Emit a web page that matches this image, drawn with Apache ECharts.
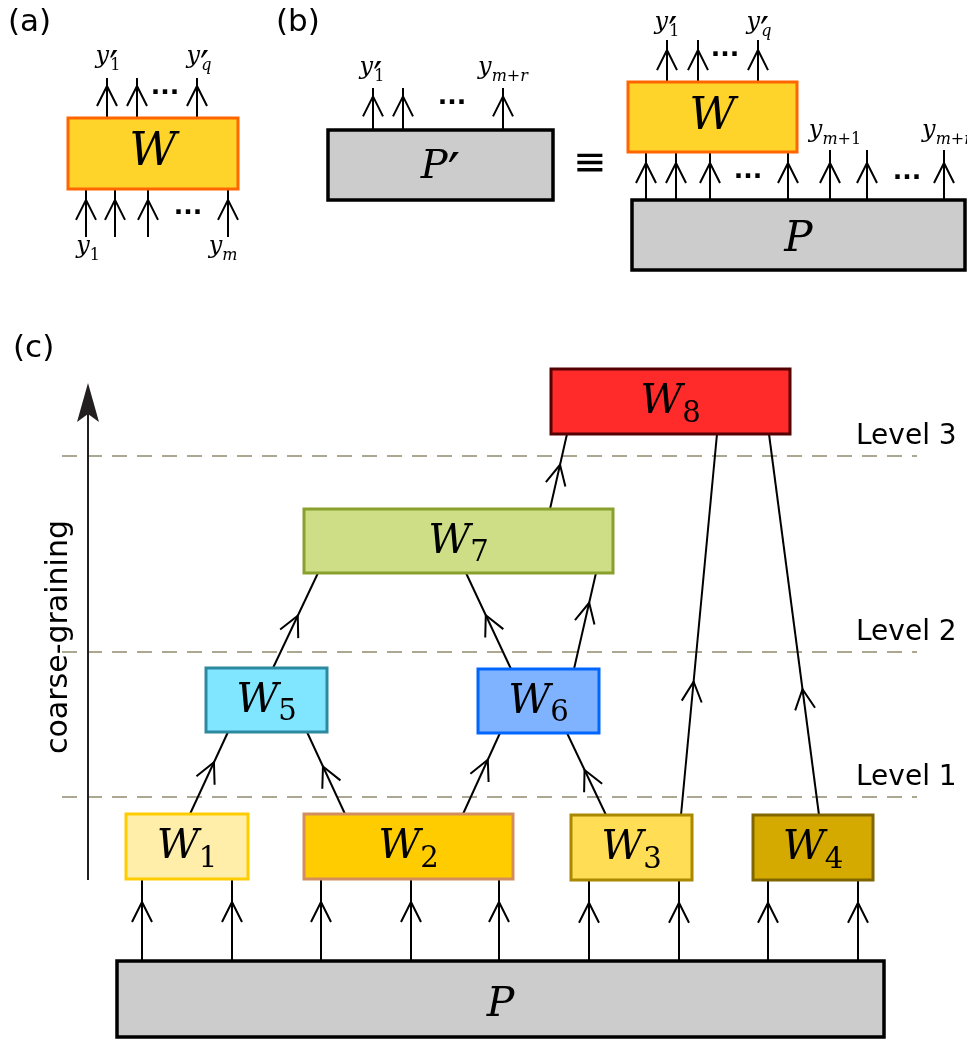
<!DOCTYPE html>
<html><head><meta charset="utf-8">
<script src="https://cdn.jsdelivr.net/npm/echarts@6/dist/echarts.min.js"></script>
<style>html,body{margin:0;padding:0;background:#fff}#c{width:967px;height:1039px}</style>
</head><body><div id="c"></div>
<script>
// ================= DATA (diagram units, y grows downward) =================
// Boxes
const boxIds    = ['a-W','b-P1','b-W','b-P','W8','W7','W5','W6','W1','W2','W3','W4','c-P'];
const boxBase   = ['W','P','W','P','W','W','W','W','W','W','W','W','P'];
const boxPrime  = [0,1,0,0,0,0,0,0,0,0,0,0,0];
const boxSub    = ['','','','','8','7','5','6','1','2','3','4',''];
const boxExtent = [
  [68,118,238,189],[328,130,553,200],[628,82,797,152],[632,200,965,270],
  [551,369,790,434],[304,509,613,573],[206,668,327,732],[478,669,599,733],
  [126,814,248,879],[304,814,513,879],[571,815,692,880],[753,815,873,880],
  [117,961,884,1037]
];
// Arrows: [fromX, fromY, toX, toY, head position along the edge]
const arrows = [
  [107,118,107,78,0.8],[137,118,137,78,0.8],[197,118,197,78,0.8],
  [86,237,86,190,0.79],[115,237,115,190,0.79],[148,237,148,190,0.79],[228,237,228,190,0.79],
  [373,130,373,88,0.8],[403,130,403,88,0.8],[503,130,503,88,0.8],
  [667,82,667,40,0.76],[698,82,698,40,0.76],[758,82,758,40,0.76],
  [646,200,646,152,0.77],[676,200,676,152,0.77],[710,200,710,152,0.77],[788,200,788,152,0.77],
  [830,200,830,150,0.74],[867,200,867,150,0.74],[944,200,944,150,0.74],
  [142,961,142,879,0.72],[232,961,232,879,0.72],[321,961,321,879,0.72],[411,961,411,879,0.72],
  [499,961,499,879,0.72],[589,961,589,880,0.72],[679,961,679,880,0.72],[768,961,768,880,0.72],
  [858,961,858,880,0.72],
  [190,814,228,732,0.63],[345,814,307,732,0.58],[463,814,500,733,0.67],[606,815,567,733,0.55],
  [681,815,717,434,0.35],[819,815,769,434,0.33],
  [273,668,318,573,0.55],[511,669,466,573,0.56],[574,669,596,573,0.69],
  [550,509,567,434,0.59]
];
// Ellipsis marks
const dotsPos = [[165,93],[188,213],[452,103],[725,55],[748,177],[907,178]];
// Variable labels
const varPos   = [[108,57],[199,57],[88,247],[223,247],[372,68],[503,68],[667,23],[759,23],[835,131],[947,131]];
const varBase  = ['y','y','y','y','y','y','y','y','y','y'];
const varPrime = [1,1,0,0,1,0,1,1,0,0];
const varSub   = ['1','q','1','m','1','m+r','1','q','m+1','m+r'];
// Panel tags
const tagText = ['(a)','(b)','(c)'];
const tagPos  = [[8,23],[276,23],[13,349]];
// Levels
const levelText  = ['Level 3','Level 2','Level 1'];
const levelLineY = [456,652,797];
const levelTextY = [437,633,778];
const levelSpan  = [62,917];
const levelTextX = 856;
// Coarse-graining axis
const cgTitle = 'coarse-graining';
const cgTitlePos = [59,637];
const cgAxis = [88,880,88,383];
const equivPos = [590,165];

// ================= STYLES =================
const MATH = "'DejaVu Serif', serif";
const SANS = "'DejaVu Sans', sans-serif";
const boxStyle = {
  'a-W':  {fill:'#ffd42a', stroke:'#ff6600', lw:3, size:46, dy:0},
  'b-P1': {fill:'#cccccc', stroke:'#000000', lw:3.5, size:40, dy:3},
  'b-W':  {fill:'#ffd42a', stroke:'#ff6600', lw:3, size:45, dy:0},
  'b-P':  {fill:'#cccccc', stroke:'#000000', lw:3.5, size:42, dy:5},
  'W8':   {fill:'#ff2a2a', stroke:'#550000', lw:3, size:41, dy:1},
  'W7':   {fill:'#cdde87', stroke:'#89a02c', lw:3, size:41, dy:1},
  'W5':   {fill:'#80e5ff', stroke:'#2c89a0', lw:3, size:41, dy:1},
  'W6':   {fill:'#80b3ff', stroke:'#0066ff', lw:3, size:41, dy:1},
  'W1':   {fill:'#ffeeaa', stroke:'#ffcc00', lw:3, size:41, dy:1},
  'W2':   {fill:'#ffcc00', stroke:'#d38d5f', lw:3, size:41, dy:1},
  'W3':   {fill:'#ffdd55', stroke:'#aa8800', lw:3, size:41, dy:1},
  'W4':   {fill:'#d4aa00', stroke:'#806600', lw:3, size:41, dy:1},
  'c-P':  {fill:'#cccccc', stroke:'#000000', lw:3.5, size:41, dy:6}
};

function subTokens(sub){
  let out='';
  for (const ch of sub) out += /[a-z]/.test(ch) ? '{si|'+ch+'}' : '{su|'+ch+'}';
  return out;
}
function mathText(base, prime, sub){
  return '{b|'+base+'}' + (prime ? (sub ? '{p|′}' : '{pp|′}') : '') + (sub ? subTokens(sub) : '');
}
function mathRich(size, subSize, drop, tuck, primeSize, primeDrop){
  return {
    b:{fontFamily:MATH,fontStyle:'italic',fontSize:size,fill:'#000'},
    p:{fontFamily:SANS,fontSize:primeSize,fill:'#000',padding:[primeDrop*2,-tuck,0,0]},
    pp:{fontFamily:SANS,fontSize:primeSize,fill:'#000',padding:[primeDrop*2,0,0,0]},
    su:{fontFamily:MATH,fontSize:subSize,fill:'#000',padding:[drop*2,0,0,0]},
    si:{fontFamily:MATH,fontStyle:'italic',fontSize:subSize,fill:'#000',padding:[drop*2,0,0,0]}
  };
}

// ================= RENDERERS =================
function renderBox(params, api){
  const i = params.dataIndex;
  const p1 = api.coord([api.value(0), api.value(1)]);
  const p2 = api.coord([api.value(2), api.value(3)]);
  const st = boxStyle[boxIds[i]];
  const cx = (p1[0]+p2[0])/2, cy = (p1[1]+p2[1])/2;
  return {type:'group', children:[
    {type:'rect', shape:{x:p1[0], y:p1[1], width:p2[0]-p1[0], height:p2[1]-p1[1]},
     style:{fill:st.fill, stroke:st.stroke, lineWidth:st.lw}},
    {type:'text', x:cx, y:cy+st.dy, style:{
      text: mathText(boxBase[i], boxPrime[i], boxSub[i]),
      rich: mathRich(st.size, st.size*0.71, 11.5, 0, 56, 9),
      align:'center', verticalAlign:'middle', fill:'#000'}}
  ]};
}
function renderArrow(params, api){
  const a = api.coord([api.value(0), api.value(1)]);
  const b = api.coord([api.value(2), api.value(3)]);
  const t = api.value(4);
  const dx=b[0]-a[0], dy=b[1]-a[1], L=Math.hypot(dx,dy), ux=dx/L, uy=dy/L;
  const px=a[0]+dx*t, py=a[1]+dy*t;
  const back=20, half=10;
  const bx=px-ux*back, by=py-uy*back, nx=-uy, ny=ux;
  return {type:'group', children:[
    {type:'line', shape:{x1:a[0],y1:a[1],x2:b[0],y2:b[1]}, style:{stroke:'#000',lineWidth:2}},
    {type:'polyline', shape:{points:[[bx+nx*half,by+ny*half],[px,py],[bx-nx*half,by-ny*half]]},
     style:{stroke:'#000',lineWidth:2,fill:null}}
  ]};
}
function renderLevel(params, api){
  const a = api.coord([api.value(0), api.value(1)]);
  const b = api.coord([api.value(2), api.value(1)]);
  return {type:'line', shape:{x1:a[0],y1:a[1],x2:b[0],y2:b[1]},
    style:{stroke:'#aca793',lineWidth:2,lineDash:[15,10]}};
}
function renderAxisArrow(params, api){
  const a = api.coord([api.value(0), api.value(1)]);
  const b = api.coord([api.value(2), api.value(3)]);
  return {type:'group', children:[
    {type:'line', shape:{x1:a[0],y1:a[1],x2:b[0],y2:b[1]+30}, style:{stroke:'#231f20',lineWidth:2}},
    {type:'polygon', shape:{points:[[b[0],b[1]],[b[0]-11,b[1]+39],[b[0],b[1]+31],[b[0]+11,b[1]+39]]},
     style:{fill:'#231f20'}}
  ]};
}

// text items assembled from the named arrays
const textItems = [];
dotsPos.forEach(p => textItems.push({x:p[0], y:p[1], kind:'dots'}));
varPos.forEach((p,i) => textItems.push({x:p[0], y:p[1], kind:'var', i}));
tagPos.forEach((p,i) => textItems.push({x:p[0], y:p[1], kind:'tag', text:tagText[i]}));
levelTextY.forEach((y,i) => textItems.push({x:levelTextX, y, kind:'level', text:levelText[i]}));
textItems.push({x:cgTitlePos[0], y:cgTitlePos[1], kind:'title', text:cgTitle});
textItems.push({x:equivPos[0], y:equivPos[1], kind:'equiv', text:'≡'});

function renderText(params, api){
  const it = textItems[params.dataIndex];
  const p = api.coord([api.value(0), api.value(1)]);
  if (it.kind === 'dots') {
    return {type:'text', x:p[0], y:p[1], style:{text:'···', fontFamily:SANS, fontWeight:'bold', fontSize:25,
      fill:'#000', align:'center', verticalAlign:'middle'}};
  }
  if (it.kind === 'var') {
    const i = it.i;
    return {type:'text', x:p[0], y:p[1], style:{text:mathText(varBase[i], varPrime[i], varSub[i]),
      rich: mathRich(24, 16, 9, 8, 40, 13), fill:'#000', align:'center', verticalAlign:'middle'}};
  }
  if (it.kind === 'title') {
    return {type:'text', x:p[0], y:p[1], rotation:Math.PI/2, style:{text:it.text, fontFamily:SANS,
      fontSize:30, fill:'#000', align:'center', verticalAlign:'middle'}};
  }
  if (it.kind === 'equiv') {
    return {type:'text', x:p[0], y:p[1], style:{text:it.text, fontFamily:SANS,
      fontSize:40, fill:'#000', align:'center', verticalAlign:'middle'}};
  }
  return {type:'text', x:p[0], y:p[1], style:{text:it.text, fontFamily:SANS,
    fontSize: it.kind === 'tag' ? 31 : 28, fill:'#000', align:'left', verticalAlign:'middle'}};
}

const chart = echarts.init(document.getElementById('c'), null, {renderer:'canvas'});
chart.setOption({
  animation:false,
  backgroundColor:'#ffffff',
  grid:{left:0,right:0,top:0,bottom:0},
  xAxis:{type:'value',min:0,max:967,show:false},
  yAxis:{type:'value',min:0,max:1039,inverse:true,show:false},
  series:[
    {type:'custom', name:'levels', clip:false, renderItem:renderLevel,
     data: levelLineY.map(y => [levelSpan[0], y, levelSpan[1]])},
    {type:'custom', name:'axis', clip:false, renderItem:renderAxisArrow, data:[cgAxis]},
    {type:'custom', name:'arrows', clip:false, renderItem:renderArrow, data:arrows},
    {type:'custom', name:'boxes', clip:false, renderItem:renderBox, data:boxExtent},
    {type:'custom', name:'texts', clip:false, renderItem:renderText, data:textItems.map(t => [t.x, t.y])}
  ]
});
</script></body></html>
